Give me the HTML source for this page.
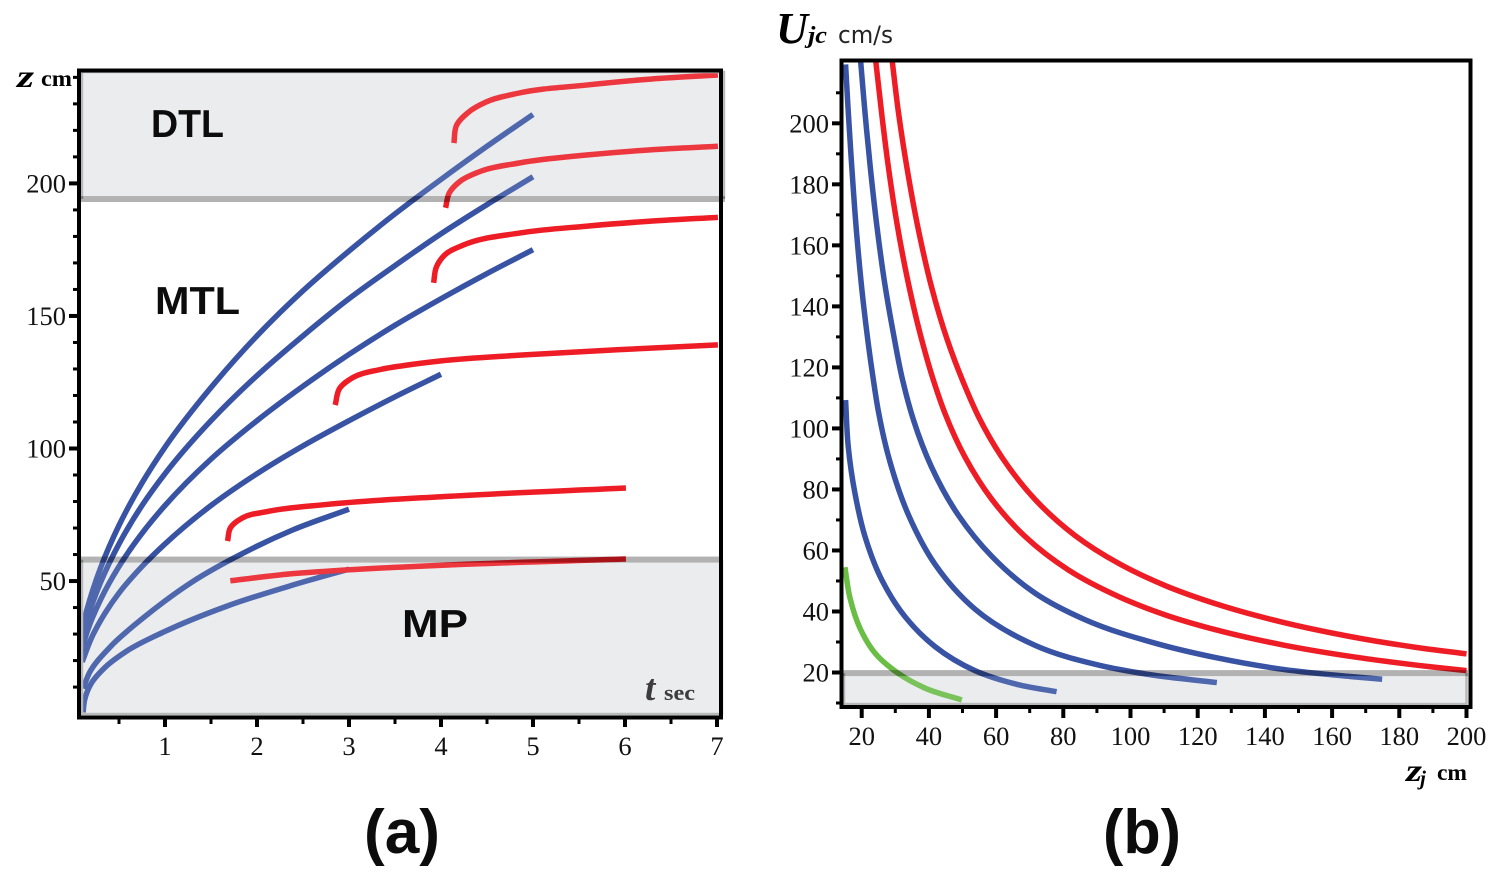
<!DOCTYPE html>
<html lang="en">
<head>
<meta charset="utf-8">
<title>Jet penetration depth and critical velocity charts</title>
<style>
html,body{margin:0;padding:0;background:#fff;}
svg{display:block;}
.tick{font-family:"Liberation Serif",serif;font-size:26.5px;fill:#111;}
.region{font-family:"Liberation Sans",sans-serif;font-weight:700;fill:#0c0c0c;}
.serifb{font-family:"Liberation Serif",serif;font-weight:700;}
.serifbi{font-family:"Liberation Serif",serif;font-weight:700;font-style:italic;}
</style>
</head>
<body>
<svg id="chart" xmlns="http://www.w3.org/2000/svg" width="1496" height="879" viewBox="0 0 1496 879">
  <rect width="1496" height="879" fill="#fff"/>
  <g id="panelA"></g>
  <g id="panelB"></g>

  <text class="region" x="151" y="137" font-size="39" textLength="73" lengthAdjust="spacingAndGlyphs">DTL</text>
  <text class="region" x="155" y="314" font-size="39" textLength="85" lengthAdjust="spacingAndGlyphs">MTL</text>
  <text class="region" x="402" y="637" font-size="39" textLength="66" lengthAdjust="spacingAndGlyphs">MP</text>

  <g>
    <text class="serifbi" x="17" y="87" font-size="32" textLength="17" lengthAdjust="spacingAndGlyphs">z</text>
    <text class="serifb" x="41" y="86" font-size="23" textLength="31" lengthAdjust="spacingAndGlyphs">cm</text>
  </g>
  <g>
    <text class="serifbi" x="645" y="700" font-size="37" fill="#3c3c3e">t</text>
    <text class="serifb" x="664" y="700" font-size="22" fill="#3c3c3e" textLength="31" lengthAdjust="spacingAndGlyphs">sec</text>
  </g>
  <g>
    <text class="serifbi" x="776" y="43" font-size="44" textLength="32" lengthAdjust="spacingAndGlyphs">U</text>
    <text class="serifbi" x="808" y="43" font-size="24" textLength="19" lengthAdjust="spacingAndGlyphs">jc</text>
    <text x="838" y="43" font-size="24" font-family="'DejaVu Sans',sans-serif" fill="#222" textLength="55" lengthAdjust="spacingAndGlyphs">cm/s</text>
  </g>
  <g>
    <text class="serifbi" x="1406" y="781" font-size="32" textLength="16" lengthAdjust="spacingAndGlyphs">z</text>
    <text class="serifbi" x="1420" y="785" font-size="21">j</text>
    <text class="serifb" x="1437" y="780" font-size="23" textLength="30" lengthAdjust="spacingAndGlyphs">cm</text>
  </g>

  <text font-family="'Liberation Sans',sans-serif" font-weight="700" font-size="62" x="364" y="853" fill="#0c0c0c" textLength="76" lengthAdjust="spacingAndGlyphs">(a)</text>
  <text font-family="'Liberation Sans',sans-serif" font-weight="700" font-size="62" x="1103" y="853" fill="#0c0c0c" textLength="78" lengthAdjust="spacingAndGlyphs">(b)</text>
</svg>

<script>
// ---------- Panel (a) data: [t seconds, z cm] ----------
const aXMajorTicks = [1, 2, 3, 4, 5, 6, 7];
const aXMinorTicks = [0.5, 1.5, 2.5, 3.5, 4.5, 5.5, 6.5];
const aYMajorTicks = [50, 100, 150, 200];
const aYMinorTicks = [10, 20, 30, 40, 60, 70, 80, 90, 110, 120, 130, 140, 160, 170, 180, 190, 210, 220, 230, 240];
const aRegionMP = 58.1;
const aRegionDTL = 194.1;

const aBlue1 = [[.08,28.5],[.15,39],[.3,55],[.5,71],[.75,87],[1,100.5],[1.5,123],[2,142.5],[2.5,159.5],[3,174.5],[3.5,188.5],[4,201.5],[4.5,214],[5,226]];
const aBlue2 = [[.08,25],[.15,35],[.3,49.5],[.5,64],[.75,78.5],[1,90.5],[1.5,110.5],[2,127.5],[2.5,142.5],[3,156.5],[3.5,169],[4,181],[4.5,192],[5,202.5]];
const aBlue3 = [[.08,21.5],[.15,30.5],[.3,43],[.5,55.5],[.75,68],[1,78.5],[1.5,96],[2,110.5],[2.5,123.5],[3,135.5],[3.5,146.5],[4,156.5],[4.5,166],[5,175]];
const aBlue4 = [[.1,19.5],[.2,28.5],[.35,38],[.5,45.5],[.75,55.5],[1,64],[1.5,78.5],[2,90.5],[2.5,101],[3,110.5],[3.5,119.5],[4,128]];
const aBlue5 = [[.11,9.5],[.18,15.5],[.4,25],[.76,36],[1,42.5],[1.31,50],[1.71,58],[2.39,69.3],[3,77.1]];
const aBlue6 = [[.11,.5],[.125,5],[.2,11.5],[.35,17.5],[.58,23.5],[1,31],[1.67,40.5],[2.39,48.5],[3,54.5]];

const aRed1 = [[4.14,215.2],[4.17,222],[4.3,226.9],[4.49,230.7],[4.85,234.1],[5.58,237.1],[6.29,239.4],[7.01,240.9]];
const aRed2 = [[4.05,190.8],[4.09,196.4],[4.2,200.6],[4.41,204.3],[4.85,207.7],[5.58,210.7],[6.29,212.7],[7.01,214]];
const aRed3 = [[3.92,162.5],[3.95,168.5],[4.04,173],[4.24,176.7],[4.86,181.3],[5.59,183.9],[6.3,185.8],[7.01,187.2]];
const aRed4 = [[2.85,116.4],[2.9,122.8],[3.03,126.5],[3.34,129.8],[3.6,131.3],[3.99,133],[4.86,135.2],[5.94,137.3],[7.01,139.1]];
const aRed5 = [[1.68,65.1],[1.71,70],[1.84,73.8],[2.11,76.2],[2.76,78.9],[4.1,82],[6.01,85.1]];
const aRed6 = [[1.71,50.1],[2.36,52.7],[2.98,54.2],[4.1,56.1],[6.01,58.3]];

// ---------- Panel (b) data: [z_j cm, U_jc cm/s] ----------
const bXMajorTicks = [20, 40, 60, 80, 100, 120, 140, 160, 180, 200];
const bXMinorTicks = [30, 50, 70, 90, 110, 130, 150, 170, 190];
const bYMajorTicks = [20, 40, 60, 80, 100, 120, 140, 160, 180, 200];
const bYMinorTicks = [10, 30, 50, 70, 90, 110, 130, 150, 170, 190, 210];
const bThreshold = 19.8;

const bRed1 = [[29.1,220.2],[30.9,203.9],[33.4,185.9],[36.8,165.5],[40.8,146.3],[45.3,129.6],[50.4,114.7],[54.7,104],[61.7,90.6],[71.6,76.7],[83.5,64.9],[96.4,55.8],[110.3,48.5],[125.7,42.4],[145.5,36.4],[165.3,31.8],[185.2,28.2],[200,26.1]];
const bRed2 = [[24.2,220.2],[26,202.7],[27.9,186],[30.4,167.8],[33.9,147.5],[37.4,131],[41.2,116.3],[44.8,104.9],[50.7,90.7],[58.7,76.8],[68.6,64.6],[81.5,53.6],[96.4,44.9],[110.3,38.9],[125.7,33.9],[145.5,29],[165.3,25.3],[185.2,22.4],[200,20.6]];
const bBlue1 = [[19.7,220.2],[21,203.3],[22.5,186.2],[24.5,166.5],[26.9,147.2],[29.4,131.3],[32.1,116.2],[35.4,102.8],[40.8,87.3],[48.8,71.5],[58.7,58.1],[71.6,46],[86.5,37.3],[108,29.4],[125.7,24.8],[145.5,21],[165.3,18.7],[174.9,17.8]];
const bBlue2 = [[15.2,219.3],[16,203.8],[17,186.5],[18.5,163.8],[20.5,141],[23.5,115.7],[24.9,106],[28.4,89.1],[33.9,71.7],[41.8,55.5],[53.7,40.8],[71.6,28.9],[91.4,22.2],[105.8,19.3],[125.7,16.7]];
const bBlue3 = [[15.2,109.3],[16,94],[18,78.7],[21,64.5],[26,50.3],[32.9,38.3],[41.8,28.5],[53.7,20.6],[66.6,16],[78,13.7]];
const bGreen = [[15,54.5],[16.5,44.5],[19.5,34.5],[24,26.3],[30.9,19.7],[38.8,14.9],[49.8,11]];

// ---------- Axis functions ----------
function ax(t){ return 73 + 92 * t; }
function ay(z){ return 713.6 - 2.651 * z; }
function bx(v){ return 861.7 + 3.36 * (v - 20); }
function by(v){ return 672.5 - 3.051 * (v - 20); }

const NS = 'http://www.w3.org/2000/svg';
const BLUE = '#3953a4', RED = '#ee1c25', GREEN = '#6abd45';

function mk(tag, parent){
  const el = document.createElementNS(NS, tag);
  parent.appendChild(el);
  return el;
}
// Smooth spline through the data points; tangents weighted for uneven spacing.
function smooth(points, fx, fy){
  const p = points.map(function(q){ return [fx(q[0]), fy(q[1])]; });
  const n = p.length;
  const len = [];
  for (let i = 0; i < n - 1; i++) len.push(Math.hypot(p[i + 1][0] - p[i][0], p[i + 1][1] - p[i][1]) || 0.001);
  const tan = [];
  for (let i = 0; i < n; i++) {
    let tx, ty;
    if (i === 0) {
      tx = (p[1][0] - p[0][0]) / len[0]; ty = (p[1][1] - p[0][1]) / len[0];
    } else if (i === n - 1) {
      tx = (p[i][0] - p[i - 1][0]) / len[i - 1]; ty = (p[i][1] - p[i - 1][1]) / len[i - 1];
    } else {
      const a = len[i - 1], b = len[i];
      tx = (p[i][0] - p[i - 1][0]) / a * b + (p[i + 1][0] - p[i][0]) / b * a;
      ty = (p[i][1] - p[i - 1][1]) / a * b + (p[i + 1][1] - p[i][1]) / b * a;
      const m = Math.hypot(tx, ty) || 1;
      tx /= m; ty /= m;
    }
    tan.push([tx, ty]);
  }
  let d = 'M' + p[0][0].toFixed(2) + ' ' + p[0][1].toFixed(2);
  for (let i = 0; i < n - 1; i++) {
    const h = len[i] / 3;
    d += 'C' + (p[i][0] + tan[i][0] * h).toFixed(2) + ' ' + (p[i][1] + tan[i][1] * h).toFixed(2) + ' ' +
         (p[i + 1][0] - tan[i + 1][0] * h).toFixed(2) + ' ' + (p[i + 1][1] - tan[i + 1][1] * h).toFixed(2) + ' ' +
         p[i + 1][0].toFixed(2) + ' ' + p[i + 1][1].toFixed(2);
  }
  return d;
}
function curve(parent, points, fx, fy, color, name){
  const el = mk('path', parent);
  el.setAttribute('d', smooth(points, fx, fy));
  el.setAttribute('fill', 'none');
  el.setAttribute('stroke', color);
  el.setAttribute('stroke-width', '5.5');
  
  
}
// Solid band goes under the curves; the veil over the curves only lightens them.
function band(parent, x, y, w, h, opacity, name){
  const el = mk('rect', parent);
  el.setAttribute('x', x);
  el.setAttribute('y', y);
  el.setAttribute('width', w);
  el.setAttribute('height', h);
  el.setAttribute('fill', '#ebecee');
  el.setAttribute('fill-opacity', opacity);
  
  
}
function edge(parent, d, width, name){
  const el = mk('path', parent);
  el.setAttribute('d', d);
  el.setAttribute('fill', 'none');
  el.setAttribute('stroke', '#b9b9b9');
  el.setAttribute('stroke-width', width);
  
  
}
function bandLine(parent, x1, x2, y, name){
  const el = mk('rect', parent);
  el.setAttribute('x', x1);
  el.setAttribute('y', y - 3);
  el.setAttribute('width', x2 - x1);
  el.setAttribute('height', 6);
  el.setAttribute('fill', '#b2b2b2');
  el.setAttribute('style', 'mix-blend-mode:multiply');
  
  
}
function line(parent, x1, y1, x2, y2, w, name){
  const el = mk('line', parent);
  el.setAttribute('x1', x1);
  el.setAttribute('y1', y1);
  el.setAttribute('x2', x2);
  el.setAttribute('y2', y2);
  el.setAttribute('stroke', '#000');
  el.setAttribute('stroke-width', w);
  
  
}
function label(parent, x, y, anchor, value, name){
  const el = mk('text', parent);
  el.setAttribute('x', x);
  el.setAttribute('y', y);
  el.setAttribute('text-anchor', anchor);
  el.setAttribute('class', 'tick');
  el.textContent = value;
  
  
}

// ---------- Panel (a) ----------
const A = document.getElementById('panelA');
const aLeft = 79, aRight = 721, aTop = 70.5, aBottom = 717.5;

band(A, 81, aTop, 644, ay(aRegionDTL) - aTop - 3, '1', 'dtl-region-band');
band(A, 81, ay(aRegionMP) + 3, 642, aBottom - ay(aRegionMP) - 4, '1', 'mp-region-band');

[[aBlue1,'blue-curve-a1'],[aBlue2,'blue-curve-a2'],[aBlue3,'blue-curve-a3'],[aBlue4,'blue-curve-a4'],[aBlue5,'blue-curve-a5'],[aBlue6,'blue-curve-a6']].forEach(function(s){
  curve(A, s[0], ax, ay, BLUE, s[1]);
});
[[aRed1,'red-curve-a1'],[aRed2,'red-curve-a2'],[aRed3,'red-curve-a3'],[aRed4,'red-curve-a4'],[aRed5,'red-curve-a5'],[aRed6,'red-curve-a6']].forEach(function(s){
  curve(A, s[0], ax, ay, RED, s[1]);
});

band(A, 81, aTop, 644, ay(aRegionDTL) - aTop - 3, '0.13', 'dtl-region-veil');
band(A, 81, ay(aRegionMP) + 3, 642, aBottom - ay(aRegionMP) - 4, '0.13', 'mp-region-veil');
edge(A, 'M82 ' + ay(aRegionDTL) + 'V72M82 72H724V' + ay(aRegionDTL), 2.5, 'dtl-band-edge');
edge(A, 'M82 ' + ay(aRegionMP) + 'V714H722V' + ay(aRegionMP), 2.5, 'mp-band-edge');
bandLine(A, 80, 725, ay(aRegionDTL), 'dtl-boundary-line');
bandLine(A, 80, 723, ay(aRegionMP), 'mp-boundary-line');

line(A, aLeft, aTop - 2, aLeft, aBottom + 2, 4, 'y-axis-line-a');
line(A, aLeft - 2, aTop, aRight + 2, aTop, 4, 'top-frame-a');
line(A, aRight, aTop - 2, aRight, aBottom + 2, 4, 'right-frame-a');
line(A, aLeft - 2, aBottom, aRight + 2, aBottom, 4, 'x-axis-line-a');

aXMajorTicks.forEach(function(v){
  line(A, ax(v), aBottom, ax(v), 727, 4, 'x-tick-a-' + v);
  label(A, ax(v), 755, 'middle', String(v), 'x-tick-label-a-' + v);
});
aXMinorTicks.forEach(function(v){
  line(A, ax(v), aBottom, ax(v), 724, 3, 'x-minor-tick-a');
});
aYMajorTicks.forEach(function(v){
  line(A, 69, ay(v), aLeft, ay(v), 4, 'y-tick-a-' + v);
  label(A, 66, ay(v) + 9, 'end', String(v), 'y-tick-label-a-' + v);
});
aYMinorTicks.forEach(function(v){
  line(A, 73, ay(v), aLeft, ay(v), 3, 'y-minor-tick-a');
});

// ---------- Panel (b) ----------
const B = document.getElementById('panelB');
const bLeft = 841.5, bRight = 1470.5, bTop = 60.5, bBottom = 707;

band(B, 844, by(bThreshold) + 3, 622, 704 - by(bThreshold) - 3, '1', 'threshold-region-band');

[[bBlue1,'blue-curve-b1'],[bBlue2,'blue-curve-b2'],[bBlue3,'blue-curve-b3']].forEach(function(s){
  curve(B, s[0], bx, by, BLUE, s[1]);
});
[[bRed1,'red-curve-b1'],[bRed2,'red-curve-b2']].forEach(function(s){
  curve(B, s[0], bx, by, RED, s[1]);
});
curve(B, bGreen, bx, by, GREEN, 'green-curve-b');

band(B, 844, by(bThreshold) + 3, 622, 704 - by(bThreshold) - 3, '0.13', 'threshold-region-veil');
edge(B, 'M844 ' + by(bThreshold) + 'V704H1466.5V' + by(bThreshold), 2.5, 'threshold-band-edge');
bandLine(B, 843, 1468, by(bThreshold), 'threshold-line');

line(B, bLeft, bTop - 2, bLeft, bBottom + 2, 4, 'y-axis-line-b');
line(B, bLeft - 2, bTop, bRight + 2, bTop, 4, 'top-frame-b');
line(B, bRight, bTop - 2, bRight, bBottom + 2, 4, 'right-frame-b');
line(B, bLeft - 2, bBottom, bRight + 2, bBottom, 4, 'x-axis-line-b');

bXMajorTicks.forEach(function(v){
  line(B, bx(v), bBottom, bx(v), 718, 4, 'x-tick-b-' + v);
  label(B, bx(v), 745, 'middle', String(v), 'x-tick-label-b-' + v);
});
bXMinorTicks.forEach(function(v){
  line(B, bx(v), bBottom, bx(v), 713, 3, 'x-minor-tick-b');
});
bYMajorTicks.forEach(function(v){
  line(B, 832, by(v), bLeft, by(v), 4, 'y-tick-b-' + v);
  label(B, 829, by(v) + 9, 'end', String(v), 'y-tick-label-b-' + v);
});
bYMinorTicks.forEach(function(v){
  line(B, 836, by(v), bLeft, by(v), 3, 'y-minor-tick-b');
});
</script>
</body>
</html>
